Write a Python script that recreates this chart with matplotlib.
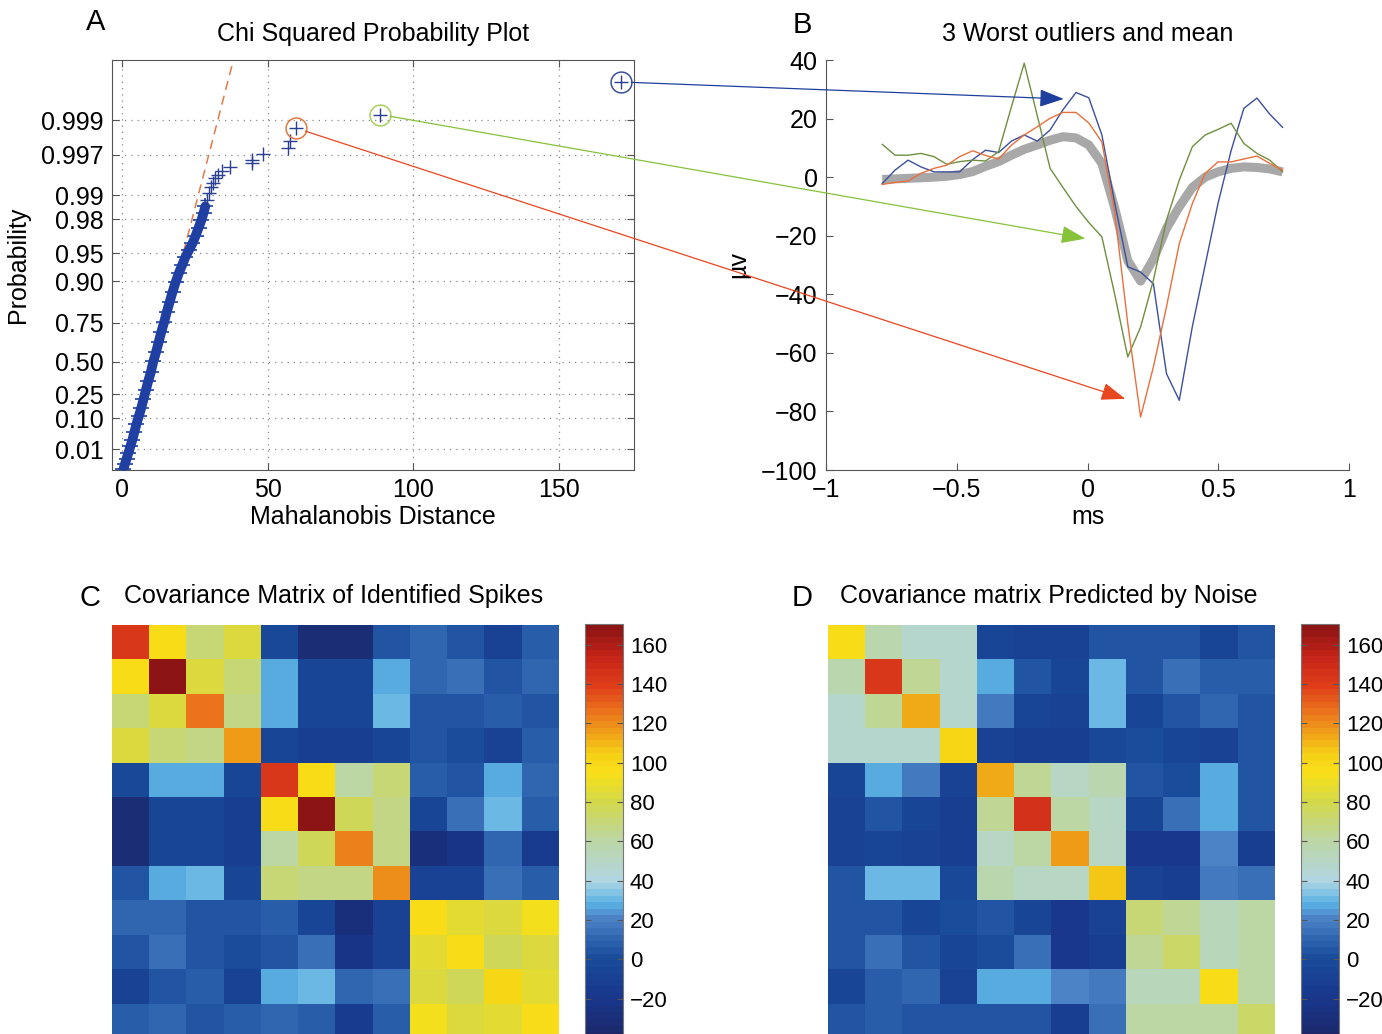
import numpy as np
import matplotlib
matplotlib.use("Agg")
import matplotlib.pyplot as plt
from matplotlib.colors import LinearSegmentedColormap, Normalize
from matplotlib.patches import ConnectionPatch, ArrowStyle

plt.rcParams['font.family'] = ['Liberation Sans', 'DejaVu Sans']
plt.rcParams['font.size'] = 18

# ---- A: chi squared probability plot (y stored as chi2(12) quantile)
band_dist = [0.5, 1.0, 1.6, 2.2, 2.9, 3.6, 4.3, 5.0, 5.8, 6.6, 7.4, 8.2, 9.0,
             9.9, 10.8, 11.7, 12.6, 13.5, 14.5, 15.4, 16.4, 17.4, 18.5, 19.6,
             20.7, 21.8, 23.0, 24.2, 25.3, 26.3, 27.3, 28.0, 28.6]
band_q = [1.75, 2.2, 2.7, 3.2, 3.8, 4.4, 5.1, 5.8, 6.5, 7.2, 8.0, 8.8, 9.6,
          10.4, 11.4, 12.2, 13.1, 14.0, 14.9, 15.8, 16.7, 17.6, 18.5, 19.3,
          20.0, 20.7, 21.3, 21.9, 22.6, 23.3, 24.0, 24.6, 25.2]
tail_dist = [29.2, 29.8, 30.4, 31.2, 32.0, 33.0, 34.5, 37.0, 44.5, 44.7,
             48.5, 57.0, 57.6]
tail_q = [25.8, 26.4, 26.9, 27.3, 27.7, 28.0, 28.4, 28.7, 29.05, 29.35,
          29.9, 30.4, 31.0]
# worst outliers: red, green, blue
outlier_dist = [59.6, 88.5, 171.2]
outlier_q = [32.2, 33.4, 36.3]
prob_ticks = [0.01, 0.10, 0.25, 0.50, 0.75, 0.90, 0.95, 0.98, 0.99, 0.997, 0.999]
prob_labels = ['0.01', '0.10', '0.25', '0.50', '0.75', '0.90', '0.95',
               '0.98', '0.99', '0.997', '0.999']

# ---- B: waveforms (ms, uV)
t_ms = [-0.785, -0.736, -0.686, -0.637, -0.587, -0.538, -0.489, -0.439,
        -0.390, -0.340, -0.291, -0.242, -0.192, -0.143, -0.094, -0.044,
        0.005, 0.055, 0.104, 0.154, 0.203, 0.252, 0.302, 0.351,
        0.401, 0.450, 0.499, 0.549, 0.598, 0.648, 0.697, 0.746]
mean_wave = [-0.8, -0.6, -0.4, -0.2, 0.0, 0.3, 0.9, 1.9, 3.7, 5.3, 7.5, 9.5,
             11.0, 12.6, 13.8, 13.4, 11.0, 4.7, -10.5, -28.5, -35.5, -28.0,
             -17.5, -10.1, -3.5, 0.0, 1.8, 3.0, 3.5, 3.3, 2.8, 1.8]
blue_wave = [-2.2, 2.4, 5.8, 3.5, 1.8, 1.8, 1.8, 6.0, 9.2, 8.4, 12.3, 14.4,
             12.3, 16.1, 23.0, 28.9, 27.1, 14.4, -8.8, -30.6, -32.4, -36.4,
             -67.1, -76.2, -51.0, -30.0, -9.0, 9.0, 23.5, 27.0, 21.5, 17.0]
green_wave = [11.2, 7.5, 7.5, 8.1, 7.0, 4.4, 5.3, 5.8, 5.5, 8.7, 24.0, 38.9,
              21.0, 3.0, -3.5, -10.0, -15.5, -20.4, -40.0, -61.4, -51.2, -35.2,
              -14.7, -1.0, 10.4, 14.4, 16.3, 18.4, 11.5, 8.1, 5.8, 1.8]
red_wave = [-2.5, -1.8, -1.3, 1.3, 3.0, 4.1, 7.0, 9.0, 7.4, 6.2, 10.9, 14.4,
            17.2, 20.1, 22.1, 22.1, 18.5, 12.0, -12.0, -50.0, -81.9, -64.8,
            -44.3, -22.7, -9.0, 1.3, 5.2, 5.2, 6.2, 7.2, 4.7, 2.4]
# arrow tips in panel B (red, green, blue)
tip_t = [0.1445, -0.008, -0.091]
tip_v = [-75.7, -21.0, 26.7]

# ---- C / D: covariance matrices
cov_spikes = [
    [143, 97, 70, 85, -3, -32, -32, 3, 10, 6, -8, 8],
    [97, 168, 85, 70, 27, -5, -5, 27, 10, 15, 5, 12],
    [70, 85, 125, 68, 26, -5, -5, 32, 6, 6, 8, 6],
    [85, 70, 68, 115, -5, -12, -12, -5, 6, 2, -10, 9],
    [-3, 27, 26, -5, 143, 97, 61, 70, 9, 5, 27, 12],
    [-32, -5, -5, -12, 97, 170, 77, 66, -5, 13, 31, 9],
    [-32, -5, -5, -12, 61, 77, 122, 66, -30, -22, 12, -15],
    [3, 27, 32, -5, 70, 66, 66, 120, -8, -8, 13, 9],
    [10, 10, 6, 6, 9, -5, -30, -8, 98, 86, 84, 92],
    [6, 15, 6, 2, 5, 13, -22, -8, 86, 97, 77, 83],
    [-8, 5, 8, -10, 27, 31, 12, 13, 84, 77, 100, 86],
    [8, 12, 6, 9, 12, 9, -15, 9, 92, 83, 86, 97],
]
cov_noise = [
    [98, 57, 47, 47, -5, -10, -10, 5, 5, 3, -5, 5],
    [57, 142, 63, 47, 27, 5, -4, 30, 5, 13, 9, 9],
    [47, 63, 114, 47, 16, -5, -8, 30, -5, 4, 12, 6],
    [47, 47, 47, 100, -8, -12, -12, -2, 2, -6, -8, 6],
    [-5, 27, 16, -8, 112, 63, 50, 57, 5, 2, 29, 6],
    [-10, 5, -5, -12, 63, 146, 62, 52, -6, 13, 29, 6],
    [-10, -4, -8, -12, 50, 62, 117, 50, -20, -20, 22, -12],
    [5, 30, 30, -2, 57, 52, 50, 108, -10, -11, 16, 13],
    [5, 5, -5, 2, 5, -6, -20, -10, 70, 63, 53, 60],
    [3, 13, 4, -6, 2, 13, -20, -11, 63, 75, 53, 60],
    [-5, 9, 12, -8, 29, 29, 22, 16, 53, 53, 98, 60],
    [5, 9, 6, 6, 6, 6, -12, 13, 60, 60, 60, 75],
]
clim = (-40, 170.6)
cbar_ticks = [-20, 0, 20, 40, 60, 80, 100, 120, 140, 160]


def chi2_cdf12(x):
    # closed form cdf of chi square with 12 degrees of freedom
    h = np.asarray(x, float) / 2
    term = np.ones_like(h)
    s = np.ones_like(h)
    for j in range(1, 6):
        term = term * h / j
        s = s + term
    return 1 - np.exp(-h) * s


def chi2_inv12(p):
    p = np.asarray(p, float)
    lo = np.zeros_like(p)
    hi = np.full_like(p, 100.0)
    for _ in range(80):
        mid = (lo + hi) / 2
        below = chi2_cdf12(mid) < p
        lo = np.where(below, mid, lo)
        hi = np.where(below, hi, mid)
    return (lo + hi) / 2


W, H = 1382, 1034
fig = plt.figure(figsize=(W / 100, H / 100), dpi=100)

def box(l, t, w, h):
    return [l / W, 1 - (t + h) / H, w / W, h / H]

axis_grey = '#555555'
navy = '#2a3f8f'
band_blue = '#1f40a2'

# ---------------- A
axA = fig.add_axes(box(112, 60, 522, 410))
axA.plot([0, 45], [0, 45], color='#e2794a', lw=1.1, dashes=(6, 4), zorder=1)
axA.plot(band_dist, band_q, '-', color=band_blue, lw=7, zorder=2,
         solid_capstyle='round')
axA.plot(band_dist, band_q, '+', color=band_blue, ms=11, mew=1.2, zorder=3)
axA.plot(tail_dist, tail_q, '+', color=navy, ms=10, mew=1.0, zorder=3)
axA.plot(outlier_dist, outlier_q, '+', color=navy, ms=10, mew=1.0, zorder=3)
circle_colors = ['#e07a44', '#a8d060', '#3a4f9a']
for d, q, c in zip(outlier_dist, outlier_q, circle_colors):
    axA.plot(d, q, 'o', mfc='none', mec=c, ms=15, mew=1.1, zorder=4)
axA.set_xlim(-3.4, 175.7)
axA.set_ylim(1.70, 38.26)
axA.set_xticks([0, 50, 100, 150])
axA.set_yticks(chi2_inv12(prob_ticks))
axA.set_yticklabels(prob_labels)
axA.grid(True, ls=(0, (1, 4)), color='#8a8a8a', lw=0.9)
axA.tick_params(direction='in', top=True, right=True, length=5,
                color=axis_grey, pad=6)
for sp in axA.spines.values():
    sp.set_color(axis_grey)
axA.set_title('Chi Squared Probability Plot', fontsize=18, pad=14)
axA.set_xlabel('Mahalanobis Distance', labelpad=2)
axA.set_ylabel('Probability', labelpad=8)

# ---------------- B
axB = fig.add_axes(box(826, 60, 523, 410))
axB.plot(t_ms, mean_wave, color='#a8a8a8', lw=6.5, solid_capstyle='butt',
         solid_joinstyle='round', zorder=1)
axB.plot(t_ms, blue_wave, color='#3b4f9c', lw=1.0, zorder=2)
axB.plot(t_ms, green_wave, color='#6f8f3f', lw=1.0, zorder=2)
axB.plot(t_ms, red_wave, color='#e8703c', lw=1.0, zorder=2)
axB.set_xlim(-1, 1)
axB.set_ylim(-100, 40)
axB.set_xticks([-1, -0.5, 0, 0.5, 1])
axB.set_xticklabels(['\u22121', '\u22120.5', '0', '0.5', '1'])
axB.set_yticks([-100, -80, -60, -40, -20, 0, 20, 40])
axB.spines['top'].set_visible(False)
axB.spines['right'].set_visible(False)
for sp in ('left', 'bottom'):
    axB.spines[sp].set_color(axis_grey)
axB.tick_params(direction='in', length=5, color=axis_grey, pad=6)
axB.set_title('3 Worst outliers and mean', fontsize=18, pad=14)
axB.set_xlabel('ms', labelpad=2)
axB.set_ylabel('\u00b5v')
axB.yaxis.set_label_coords(-0.145, 0.5)

# arrows from the circled outliers to the waveforms
arrow_colors = ['#e8461e', '#86c23a', '#1f3f9e']
for d, q, tt, vv, c in zip(outlier_dist, outlier_q, tip_t, tip_v, arrow_colors):
    con = ConnectionPatch(xyA=(d, q), coordsA=axA.transData,
                          xyB=(tt, vv), coordsB=axB.transData,
                          arrowstyle=ArrowStyle('-|>', head_length=1.5,
                                                head_width=0.55),
                          mutation_scale=10, shrinkA=7.5, shrinkB=0,
                          color=c, lw=0.9, zorder=10)
    fig.add_artist(con)

# ---------------- C / D
stops = [(-40, '#1c286a'), (-20, '#18378d'), (0, '#1a4c9c'), (10, '#3066b0'),
         (20, '#4c82c6'), (28, '#5ab2e4'), (40, '#b2d6e2'), (60, '#bcd6a6'),
         (80, '#d2d84a'), (95, '#f8e018'), (105, '#f6d016'), (115, '#f0a418'),
         (125, '#ec7c1c'), (140, '#e03e1a'), (155, '#c62418'), (170.6, '#8c1414')]
cmap = LinearSegmentedColormap.from_list(
    'cov', [((v - clim[0]) / (clim[1] - clim[0]), c) for v, c in stops], N=64)
norm = Normalize(*clim)

panels = [(cov_spikes, 112, 585, 'C', 90, 'Covariance Matrix of Identified Spikes', 124),
          (cov_noise, 828, 1301, 'D', 802, 'Covariance matrix Predicted by Noise', 840)]
for mat, left, cleft, letter, lx, title, tx in panels:
    ax = fig.add_axes(box(left, 625, 447, 413))
    im = ax.imshow(np.array(mat), cmap=cmap, norm=norm, aspect='auto',
                   interpolation='nearest')
    ax.axis('off')
    cax = fig.add_axes(box(cleft, 624, 38, 414))
    cb = fig.colorbar(im, cax=cax)
    cb.set_ticks(cbar_ticks)
    cb.outline.set_edgecolor('#777777')
    cb.outline.set_linewidth(0.8)
    cax.tick_params(labelsize=16, direction='in', left=True, right=True,
                    length=4, color='#555555', pad=5)
    fig.text(lx / W, 1 - 598 / H, letter, fontsize=21, ha='center', va='center')
    fig.text(tx / W, 1 - 596 / H, title, ha='left', va='center')

fig.text(96 / W, 1 - 22 / H, 'A', fontsize=21, ha='center', va='center')
fig.text(802 / W, 1 - 25 / H, 'B', fontsize=21, ha='center', va='center')

fig.savefig('out.png', dpi=100)
